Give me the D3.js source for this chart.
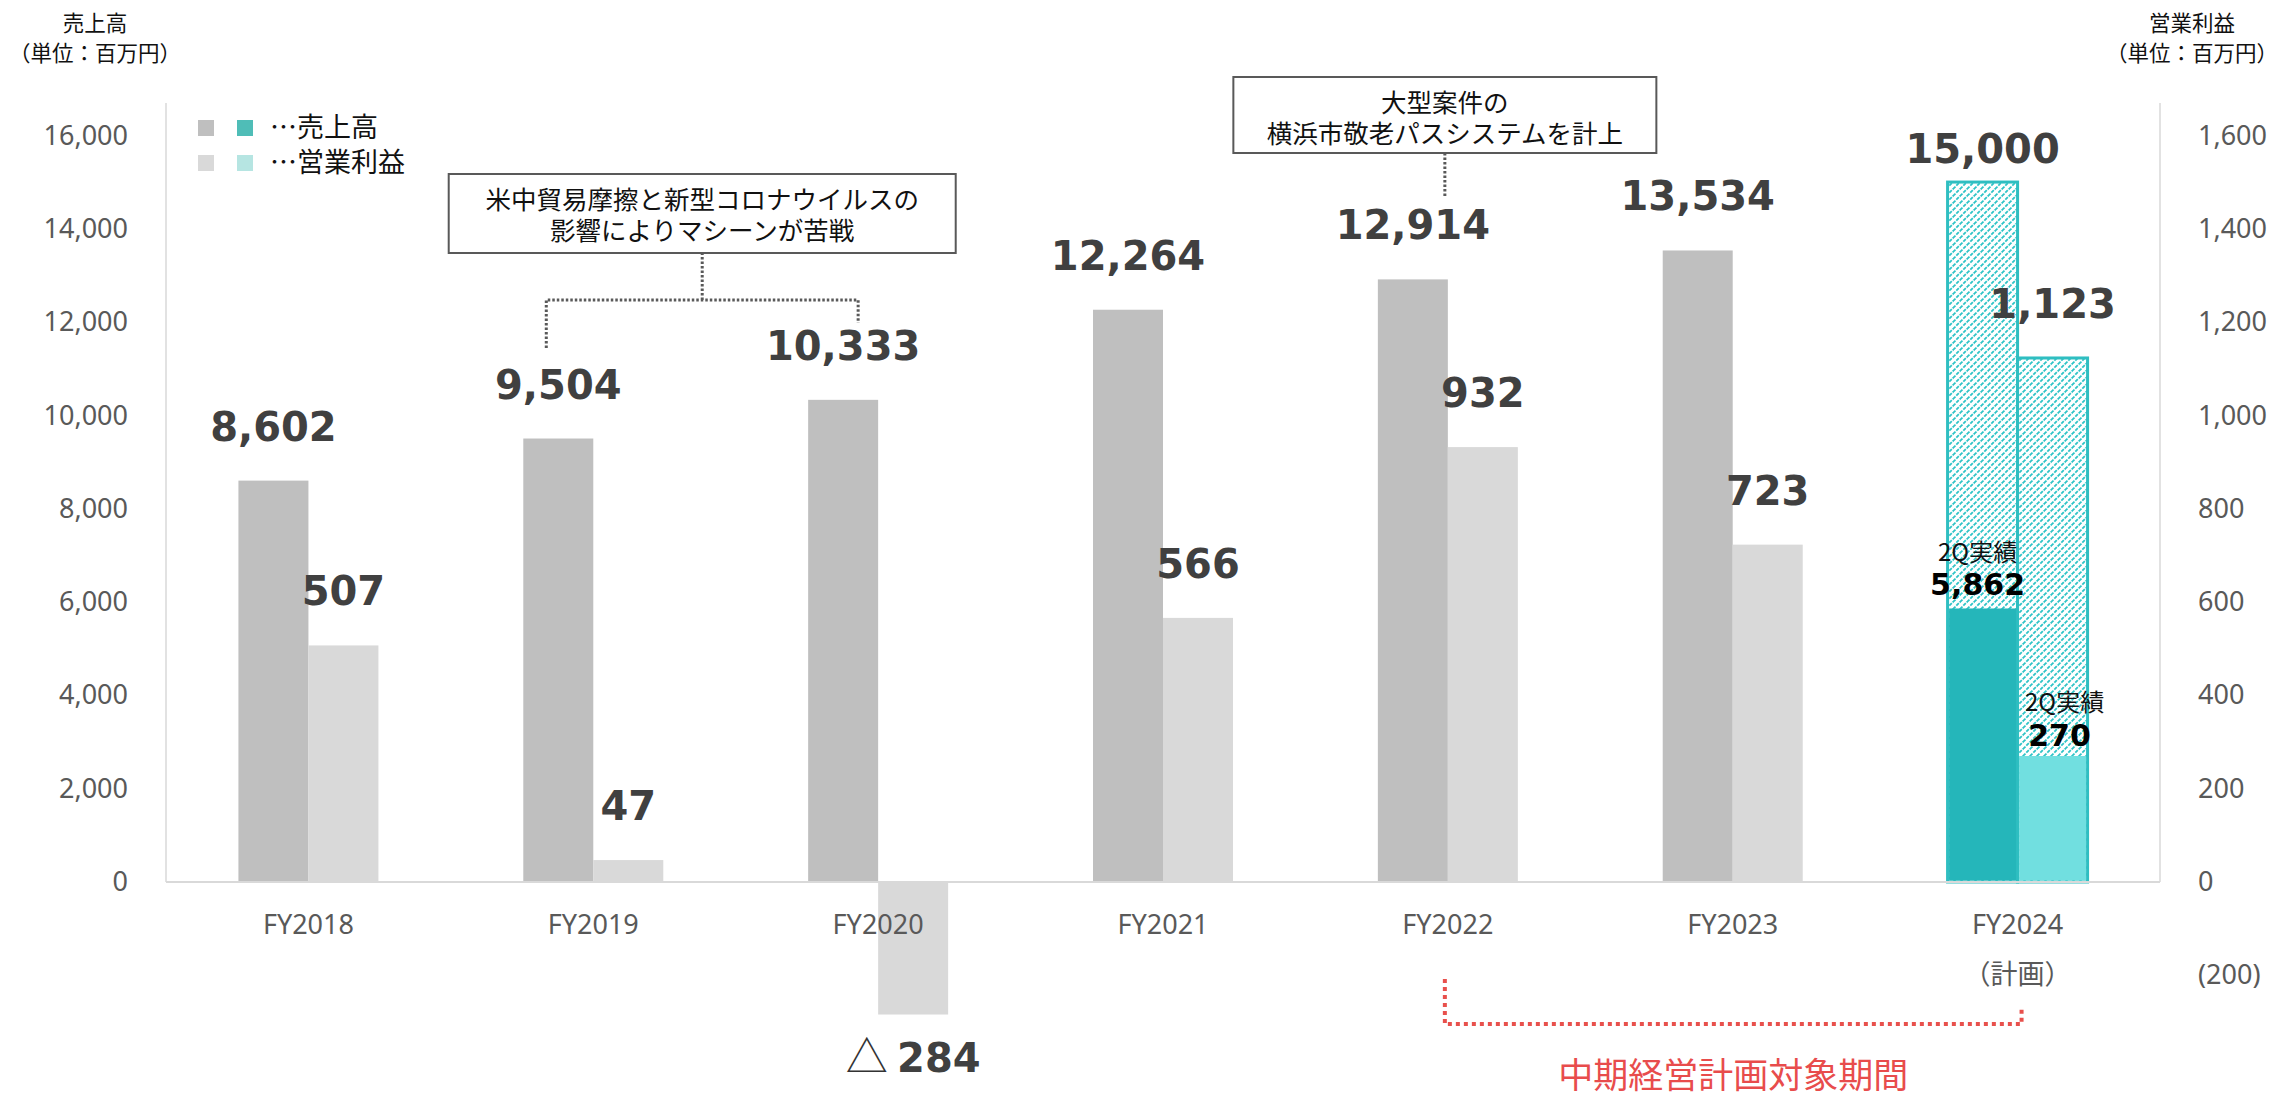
<!DOCTYPE html>
<html lang="ja">
<head>
<meta charset="utf-8">
<script src="https://d3js.org/d3.v7.min.js"></script>
<style>
  body { margin: 0; background: #fff; }
  text { font-family: "Noto Sans", "Noto Sans CJK JP", sans-serif; }
  .cjk { font-family: "Noto Sans CJK JP", sans-serif; }
  .num { font-family: "DejaVu Sans", sans-serif; font-weight: bold; }
</style>
</head>
<body>
<script>
// data
const categories = ["FY2018", "FY2019", "FY2020", "FY2021", "FY2022", "FY2023", "FY2024"];
const sales = [8602, 9504, 10333, 12264, 12914, 13534, 15000];
const profit = [507, 47, -284, 566, 932, 723, 1123];
const isPlan = [false, false, false, false, false, false, true];
const sales2Q = [null, null, null, null, null, null, 5862];
const profit2Q = [null, null, null, null, null, null, 270];
const leftTicks = [0, 2000, 4000, 6000, 8000, 10000, 12000, 14000, 16000];
const rightTicks = [-200, 0, 200, 400, 600, 800, 1000, 1200, 1400, 1600];

const W = 2283, H = 1102;
const plotLeft = 166, plotRight = 2160, plotTop = 103;
const barW = 70;

const svg = d3.select("body").append("svg")
  .attr("width", W).attr("height", H);

// hatch pattern for plan values
const defs = svg.append("defs");
const pat = defs.append("pattern")
  .attr("id", "hatch").attr("patternUnits", "userSpaceOnUse")
  .attr("width", 7).attr("height", 7);
pat.append("rect").attr("width", 7).attr("height", 7).attr("fill", "#ffffff");
pat.append("path").attr("d", "M-2,2 L2,-2 M0,7 L7,0 M5,9 L9,5")
  .attr("stroke", "#2ec4c7").attr("stroke-width", 1.8)
  .attr("stroke-dasharray", "3.5 1.2");

const x = d3.scaleBand().domain(categories).range([plotLeft, plotRight]);
const yL = d3.scaleLinear().domain([0, 16000]).range([882, 135.4]);
const yR = d3.scaleLinear().domain([0, 1600]).range([882, 135.4]);
const mid = c => x(c) + x.bandwidth() / 2;

// axis lines
svg.append("line").attr("x1", plotLeft).attr("x2", plotLeft)
  .attr("y1", plotTop).attr("y2", yL(0)).attr("stroke", "#d9d9d9").attr("stroke-width", 1.5);
svg.append("line").attr("x1", plotRight).attr("x2", plotRight)
  .attr("y1", plotTop).attr("y2", yL(0)).attr("stroke", "#d9d9d9").attr("stroke-width", 1.5);

// left axis
const axL = svg.append("g").attr("transform", `translate(${plotLeft},0)`)
  .call(d3.axisLeft(yL).tickValues(leftTicks).tickSize(0).tickPadding(38)
    .tickFormat(d3.format(",")));
axL.select(".domain").remove();
axL.selectAll("text").attr("font-size", 27).attr("fill", "#595959")
  .attr("font-family", "Noto Sans");

// right axis
const axR = svg.append("g").attr("transform", `translate(${plotRight},0)`)
  .call(d3.axisRight(yR).tickValues(rightTicks).tickSize(0).tickPadding(38)
    .tickFormat(d => d < 0 ? "(" + d3.format(",")(-d) + ")" : d3.format(",")(d)));
axR.select(".domain").remove();
axR.selectAll("text").attr("font-size", 27).attr("fill", "#595959")
  .attr("font-family", "Noto Sans");

// sales bars
const g = svg.append("g");
g.selectAll(".sales").data(categories).join("rect")
  .attr("x", c => mid(c) - barW)
  .attr("y", (c, i) => yL(sales[i]))
  .attr("width", barW)
  .attr("height", (c, i) => yL(0) - yL(sales[i]))
  .attr("fill", (c, i) => isPlan[i] ? "url(#hatch)" : "#bfbfbf")
  .attr("stroke", (c, i) => isPlan[i] ? "#2fbec1" : "none")
  .attr("stroke-width", 3);

// profit bars
g.selectAll(".profit").data(categories).join("rect")
  .attr("x", c => mid(c))
  .attr("y", (c, i) => Math.min(yR(profit[i]), yR(0)))
  .attr("width", barW)
  .attr("height", (c, i) => Math.abs(yR(0) - yR(profit[i])))
  .attr("fill", (c, i) => isPlan[i] ? "url(#hatch)" : "#d9d9d9")
  .attr("stroke", (c, i) => isPlan[i] ? "#2fbec1" : "none")
  .attr("stroke-width", 3);

// 2Q actual overlays
const idx2Q = categories.map((c, i) => i).filter(i => sales2Q[i] != null);
g.selectAll(".s2q").data(idx2Q).join("rect")
  .attr("x", i => mid(categories[i]) - barW + 1.5)
  .attr("y", i => yL(sales2Q[i]))
  .attr("width", barW - 3)
  .attr("height", i => yL(0) - yL(sales2Q[i]) - 1.5)
  .attr("fill", "#25b6ba");
g.selectAll(".p2q").data(idx2Q).join("rect")
  .attr("x", i => mid(categories[i]) + 1.5)
  .attr("y", i => yR(profit2Q[i]))
  .attr("width", barW - 3)
  .attr("height", i => yR(0) - yR(profit2Q[i]) - 1.5)
  .attr("fill", "#71dfe0");

// zero line
svg.append("line").attr("x1", plotLeft).attr("x2", plotRight)
  .attr("y1", yL(0)).attr("y2", yL(0)).attr("stroke", "#d9d9d9").attr("stroke-width", 2);

// category labels
svg.selectAll(".cat").data(categories).join("text")
  .attr("x", c => mid(c)).attr("y", 934)
  .attr("text-anchor", "middle").attr("font-size", 27).attr("fill", "#595959")
  .text(c => c);
svg.append("text").attr("class", "cjk")
  .attr("x", mid(categories[6])).attr("y", 984)
  .attr("text-anchor", "middle").attr("font-size", 27).attr("fill", "#595959")
  .text("（計画）");

// value labels - sales
svg.selectAll(".sl").data(categories).join("text").attr("class", "num")
  .attr("x", c => mid(c) - barW / 2)
  .attr("y", (c, i) => yL(sales[i]) - (isPlan[i] ? 19 : 40))
  .attr("text-anchor", "middle").attr("font-size", 40).attr("fill", "#404040")
  .text((c, i) => d3.format(",")(sales[i]));

// value labels - profit
svg.selectAll(".pl").data(categories).join("text").attr("class", "num")
  .attr("x", c => mid(c) + barW / 2)
  .attr("y", (c, i) => profit[i] < 0 ? yR(profit[i]) + 57 : yR(profit[i]) - 40)
  .attr("text-anchor", "middle").attr("font-size", 40).attr("fill", "#404040")
  .each(function(c, i) {
    const t = d3.select(this);
    if (profit[i] < 0) {
      t.append("tspan").attr("font-weight", "normal").attr("fill", "#333")
        .attr("font-family", "Noto Sans CJK JP").attr("font-size", 42).text("△ ");
      t.append("tspan").text(d3.format(",")(-profit[i]));
    } else {
      t.text(d3.format(",")(profit[i]));
    }
  });

// 2Q actual labels
idx2Q.forEach(i => {
  const c = categories[i];
  const sx = mid(c) - barW / 2 - 5, px = mid(c) + barW / 2 + 12;
  svg.append("text").attr("class", "cjk").attr("x", sx).attr("y", yL(sales2Q[i]) - 47)
    .attr("text-anchor", "middle").attr("font-size", 24).attr("fill", "#111").text("2Q実績");
  svg.append("text").attr("class", "num").attr("x", sx).attr("y", yL(sales2Q[i]) - 13)
    .attr("text-anchor", "middle").attr("font-size", 30).attr("fill", "#000").text(d3.format(",")(sales2Q[i]));
  svg.append("text").attr("class", "cjk").attr("x", px).attr("y", yR(profit2Q[i]) - 45)
    .attr("text-anchor", "middle").attr("font-size", 24).attr("fill", "#111").text("2Q実績");
  svg.append("text").attr("class", "num").attr("x", px - 5).attr("y", yR(profit2Q[i]) - 10)
    .attr("text-anchor", "middle").attr("font-size", 30).attr("fill", "#000").text(d3.format(",")(profit2Q[i]));
});

// axis titles
const titles = [
  { x: 95, lines: ["売上高", "（単位：百万円）"] },
  { x: 2192, lines: ["営業利益", "（単位：百万円）"] }
];
titles.forEach(t => {
  t.lines.forEach((s, k) => {
    svg.append("text").attr("class", "cjk").attr("x", t.x).attr("y", 31 + k * 30)
      .attr("text-anchor", "middle").attr("font-size", 21.5).attr("fill", "#111").text(s);
  });
});

// legend
const legend = [
  { colors: ["#bfbfbf", "#4fbdb7"], label: "…売上高" },
  { colors: ["#d9d9d9", "#b6e5e2"], label: "…営業利益" }
];
legend.forEach((l, k) => {
  const ly = 120 + k * 35;
  l.colors.forEach((col, j) => {
    svg.append("rect").attr("x", 198 + j * 39).attr("y", ly).attr("width", 16).attr("height", 16).attr("fill", col);
  });
  svg.append("text").attr("class", "cjk").attr("x", 270).attr("y", ly + 17)
    .attr("font-size", 27).attr("fill", "#111").text(l.label);
});

// callout boxes
function callout(cx, top, w, h, lines) {
  svg.append("rect").attr("x", cx - w / 2).attr("y", top).attr("width", w).attr("height", h)
    .attr("fill", "#fff").attr("stroke", "#595959").attr("stroke-width", 2);
  const t = svg.append("text").attr("class", "cjk").attr("x", cx).attr("y", top + 35)
    .attr("text-anchor", "middle").attr("font-size", 25.5).attr("fill", "#111");
  lines.forEach((s, k) => {
    t.append("tspan").attr("x", cx).attr("dy", k === 0 ? 0 : 31).text(s);
  });
}
const dotted = { stroke: "#595959", "stroke-width": 3, "stroke-dasharray": "2.5 2", fill: "none" };
function dpath(d, attrs) {
  const p = svg.append("path").attr("d", d);
  Object.entries(attrs).forEach(([k, v]) => p.attr(k, v));
}

const c1a = mid(categories[1]) - barW / 2 - 12;
const c1b = mid(categories[2]) - barW / 2 + 15;
const c1 = (c1a + c1b) / 2;
dpath(`M${c1a},348 V300 H${c1b} V323 M${c1},300 V253`, dotted);
callout(c1, 174, 507, 79, ["米中貿易摩擦と新型コロナウイルスの", "影響によりマシーンが苦戦"]);

const c2 = mid(categories[4]) - 3;
dpath(`M${c2},153 V196`, dotted);
callout(c2, 77, 423, 76, ["大型案件の", "横浜市敬老パスシステムを計上"]);

// mid-term plan bracket
const bx1 = mid(categories[4]) - 3, bx2 = mid(categories[6]) + 4;
dpath(`M${bx1},979 V1024 H${bx2} V1007`,
  { stroke: "#e8504c", "stroke-width": 4, "stroke-dasharray": "4 4", fill: "none" });
svg.append("text").attr("class", "cjk").attr("x", (bx1 + bx2) / 2).attr("y", 1088)
  .attr("text-anchor", "middle").attr("font-size", 35).attr("fill", "#e84c4c")
  .text("中期経営計画対象期間");
</script>
</body>
</html>
